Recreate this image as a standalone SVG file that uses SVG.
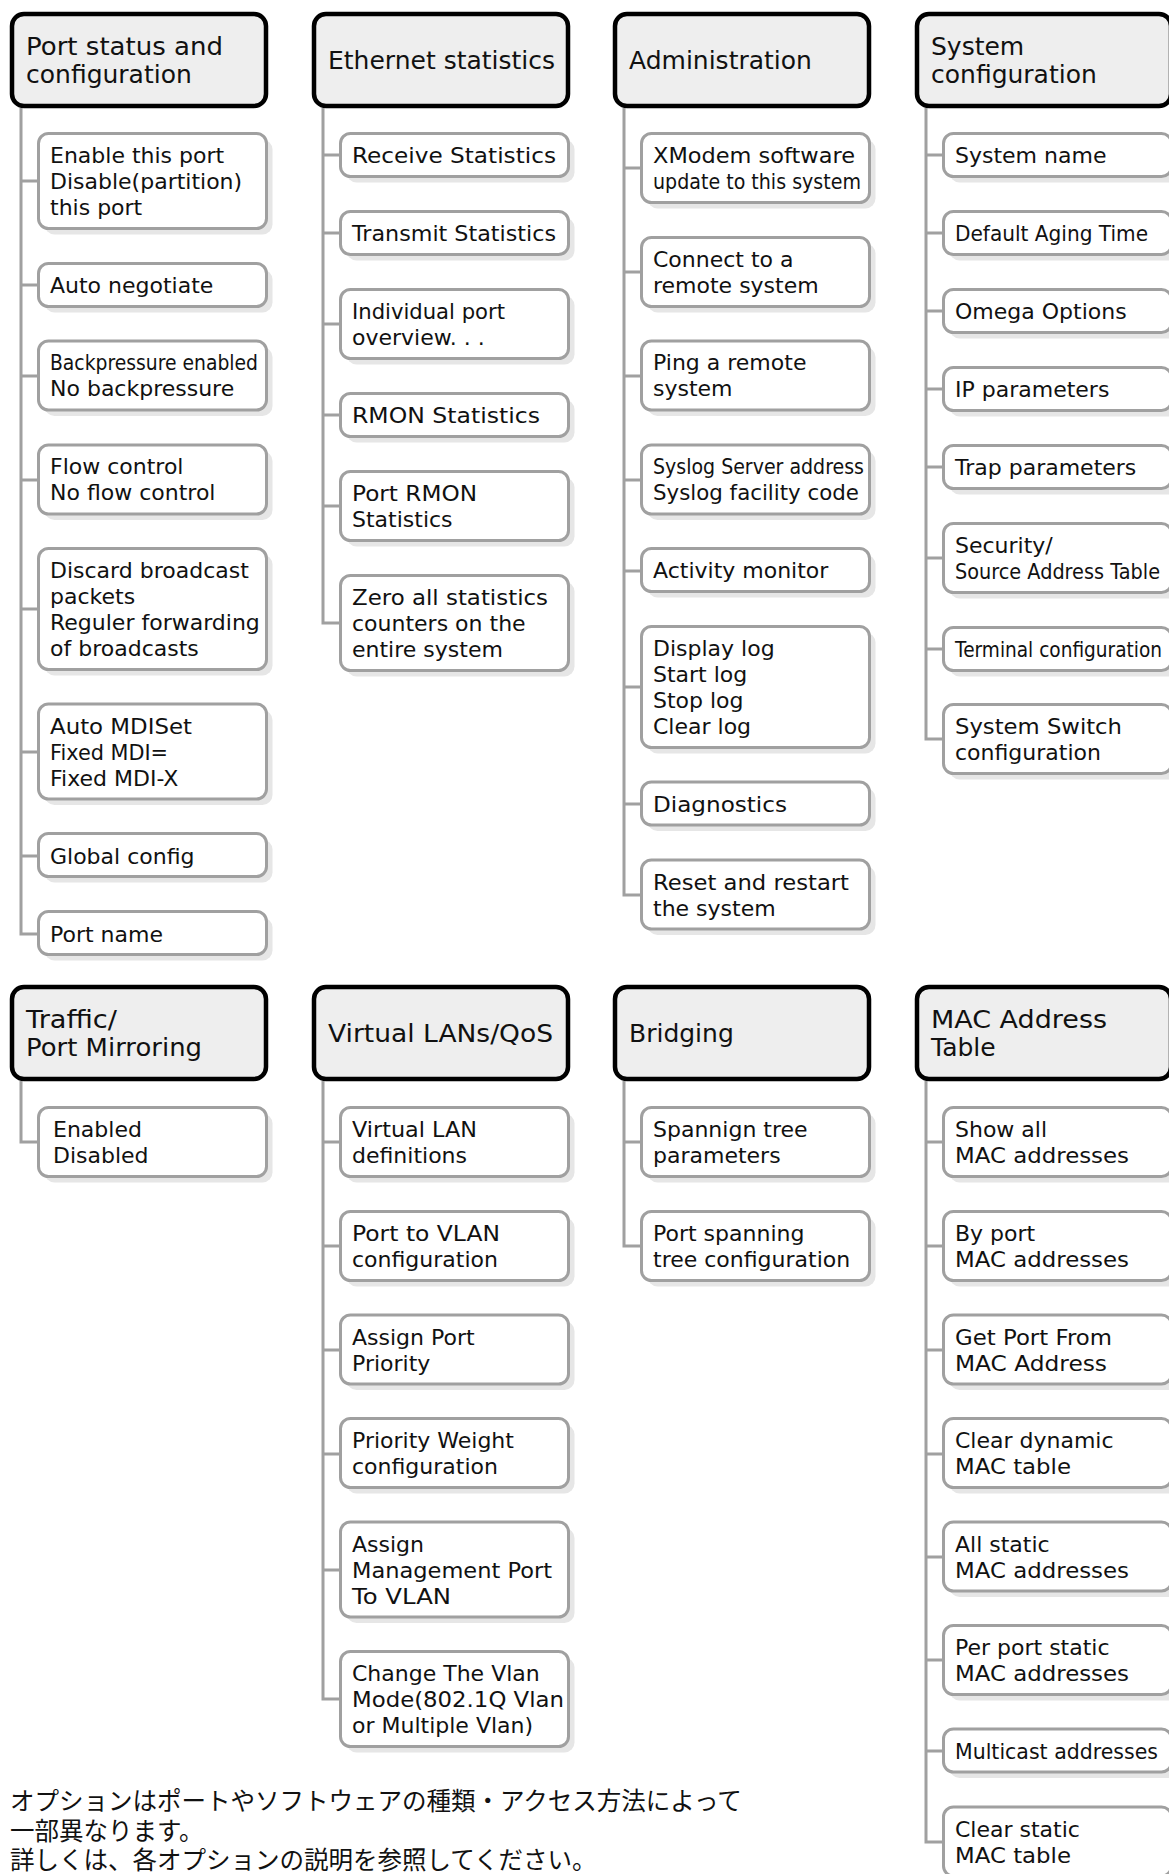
<svg xmlns="http://www.w3.org/2000/svg" width="1169" height="1874" viewBox="0 0 1169 1874">
<style>
.hd{fill:#eeeeee;stroke:#000;stroke-width:4.5}
.bx{fill:#fff;stroke:#a0a0a0;stroke-width:3}
.sh{fill:#e6e6e6}
.ln{fill:none;stroke:#a0a0a0;stroke-width:3}
text{font-family:"DejaVu Sans","Noto Sans",sans-serif;fill:#111}
.t{font-size:22px}
.h{font-size:25px}
.jp{font-family:"Noto Sans CJK JP",sans-serif;font-size:24.5px}
</style>
<rect width="1169" height="1874" fill="#fff"/>
<g id="connectors">
<path class="ln" d="M21,108V934H38M21,181H38M21,285H38M21,376H38M21,480H38M21,609H38M21,752H38M21,856H38"/>
<path class="ln" d="M323,108V623H340M323,155H340M323,233H340M323,324H340M323,415H340M323,506H340"/>
<path class="ln" d="M624,108V895H641M624,168H641M624,272H641M624,376H641M624,480H641M624,571H641M624,687H641M624,804H641"/>
<path class="ln" d="M926,108V739H943M926,155H943M926,233H943M926,311H943M926,389H943M926,467H943M926,558H943M926,649H943"/>
<path class="ln" d="M21,1081V1142H38"/>
<path class="ln" d="M323,1081V1699H340M323,1142H340M323,1246H340M323,1350H340M323,1454H340M323,1570H340"/>
<path class="ln" d="M624,1081V1246H641M624,1142H641"/>
<path class="ln" d="M926,1081V1842H943M926,1142H943M926,1246H943M926,1350H943M926,1454H943M926,1557H943M926,1660H943M926,1751H943"/>
</g>

<!-- Column 1 row 1 -->
<g id="h-port-status"><rect class="hd" x="12" y="14" width="254" height="92" rx="12"/><text class="h" x="26" y="55" textLength="197" lengthAdjust="spacingAndGlyphs">Port status and</text><text class="h" x="26" y="83">configuration</text></g>
<g id="n-enable"><rect class="sh" x="44.5" y="139.5" width="228" height="95" rx="10"/><rect class="bx" x="38.5" y="133.5" width="228" height="95" rx="10"/><text class="t" x="50" y="163">Enable this port</text><text class="t" x="50" y="189">Disable(partition)</text><text class="t" x="50" y="215">this port</text></g>
<g id="n-autoneg"><rect class="sh" x="44.5" y="269.5" width="228" height="43" rx="10"/><rect class="bx" x="38.5" y="263.5" width="228" height="43" rx="10"/><text class="t" x="50" y="293">Auto negotiate</text></g>
<g id="n-backpressure"><rect class="sh" x="44.5" y="347" width="228" height="69" rx="10"/><rect class="bx" x="38.5" y="341" width="228" height="69" rx="10"/><text class="t" x="50" y="370" textLength="208" lengthAdjust="spacingAndGlyphs">Backpressure enabled</text><text class="t" x="50" y="396">No backpressure</text></g>
<g id="n-flow"><rect class="sh" x="44.5" y="451" width="228" height="69" rx="10"/><rect class="bx" x="38.5" y="445" width="228" height="69" rx="10"/><text class="t" x="50" y="474">Flow control</text><text class="t" x="50" y="500">No flow control</text></g>
<g id="n-discard"><rect class="sh" x="44.5" y="554.5" width="228" height="121" rx="10"/><rect class="bx" x="38.5" y="548.5" width="228" height="121" rx="10"/><text class="t" x="50" y="578">Discard broadcast</text><text class="t" x="50" y="604">packets</text><text class="t" x="50" y="630">Reguler forwarding</text><text class="t" x="50" y="656">of broadcasts</text></g>
<g id="n-mdi"><rect class="sh" x="44.5" y="710" width="228" height="95" rx="10"/><rect class="bx" x="38.5" y="704" width="228" height="95" rx="10"/><text class="t" x="50" y="734" textLength="142" lengthAdjust="spacingAndGlyphs">Auto MDISet</text><text class="t" x="50" y="760" textLength="118" lengthAdjust="spacingAndGlyphs">Fixed MDI=</text><text class="t" x="50" y="786">Fixed MDI-X</text></g>
<g id="n-global"><rect class="sh" x="44.5" y="839.5" width="228" height="43" rx="10"/><rect class="bx" x="38.5" y="833.5" width="228" height="43" rx="10"/><text class="t" x="50" y="864">Global config</text></g>
<g id="n-portname"><rect class="sh" x="44.5" y="917.5" width="228" height="43" rx="10"/><rect class="bx" x="38.5" y="911.5" width="228" height="43" rx="10"/><text class="t" x="50" y="942">Port name</text></g>

<!-- Column 2 row 1 -->
<g id="h-ethernet"><rect class="hd" x="314" y="14" width="254" height="92" rx="12"/><text class="h" x="328" y="69">Ethernet statistics</text></g>
<g id="n-receive"><rect class="sh" x="346.5" y="139.5" width="228" height="43" rx="10"/><rect class="bx" x="340.5" y="133.5" width="228" height="43" rx="10"/><text class="t" x="352" y="163" textLength="204" lengthAdjust="spacingAndGlyphs">Receive Statistics</text></g>
<g id="n-transmit"><rect class="sh" x="346.5" y="217.5" width="228" height="43" rx="10"/><rect class="bx" x="340.5" y="211.5" width="228" height="43" rx="10"/><text class="t" x="352" y="241" textLength="204" lengthAdjust="spacingAndGlyphs">Transmit Statistics</text></g>
<g id="n-individual"><rect class="sh" x="346.5" y="295.5" width="228" height="69" rx="10"/><rect class="bx" x="340.5" y="289.5" width="228" height="69" rx="10"/><text class="t" x="352" y="319" textLength="153" lengthAdjust="spacingAndGlyphs">Individual port</text><text class="t" x="352" y="345">overview. . .</text></g>
<g id="n-rmon"><rect class="sh" x="346.5" y="399.5" width="228" height="43" rx="10"/><rect class="bx" x="340.5" y="393.5" width="228" height="43" rx="10"/><text class="t" x="352" y="423" textLength="188" lengthAdjust="spacingAndGlyphs">RMON Statistics</text></g>
<g id="n-portrmon"><rect class="sh" x="346.5" y="477.5" width="228" height="69" rx="10"/><rect class="bx" x="340.5" y="471.5" width="228" height="69" rx="10"/><text class="t" x="352" y="501" textLength="125" lengthAdjust="spacingAndGlyphs">Port RMON</text><text class="t" x="352" y="527">Statistics</text></g>
<g id="n-zero"><rect class="sh" x="346.5" y="581.5" width="228" height="95" rx="10"/><rect class="bx" x="340.5" y="575.5" width="228" height="95" rx="10"/><text class="t" x="352" y="605" textLength="196" lengthAdjust="spacingAndGlyphs">Zero all statistics</text><text class="t" x="352" y="631">counters on the</text><text class="t" x="352" y="657">entire system</text></g>

<!-- Column 3 row 1 -->
<g id="h-admin"><rect class="hd" x="615" y="14" width="254" height="92" rx="12"/><text class="h" x="629" y="69">Administration</text></g>
<g id="n-xmodem"><rect class="sh" x="647.5" y="139.5" width="228" height="69" rx="10"/><rect class="bx" x="641.5" y="133.5" width="228" height="69" rx="10"/><text class="t" x="653" y="163" textLength="202" lengthAdjust="spacingAndGlyphs">XModem software</text><text class="t" x="653" y="189" textLength="208" lengthAdjust="spacingAndGlyphs">update to this system</text></g>
<g id="n-connect"><rect class="sh" x="647.5" y="243.5" width="228" height="69" rx="10"/><rect class="bx" x="641.5" y="237.5" width="228" height="69" rx="10"/><text class="t" x="653" y="267">Connect to a</text><text class="t" x="653" y="293">remote system</text></g>
<g id="n-ping"><rect class="sh" x="647.5" y="347" width="228" height="69" rx="10"/><rect class="bx" x="641.5" y="341" width="228" height="69" rx="10"/><text class="t" x="653" y="370">Ping a remote</text><text class="t" x="653" y="396">system</text></g>
<g id="n-syslog"><rect class="sh" x="647.5" y="451" width="228" height="69" rx="10"/><rect class="bx" x="641.5" y="445" width="228" height="69" rx="10"/><text class="t" x="653" y="474" textLength="211" lengthAdjust="spacingAndGlyphs">Syslog Server address</text><text class="t" x="653" y="500" textLength="206" lengthAdjust="spacingAndGlyphs">Syslog facility code</text></g>
<g id="n-activity"><rect class="sh" x="647.5" y="554.5" width="228" height="43" rx="10"/><rect class="bx" x="641.5" y="548.5" width="228" height="43" rx="10"/><text class="t" x="653" y="578">Activity monitor</text></g>
<g id="n-log"><rect class="sh" x="647.5" y="632.5" width="228" height="121" rx="10"/><rect class="bx" x="641.5" y="626.5" width="228" height="121" rx="10"/><text class="t" x="653" y="656">Display log</text><text class="t" x="653" y="682">Start log</text><text class="t" x="653" y="708">Stop log</text><text class="t" x="653" y="734">Clear log</text></g>
<g id="n-diag"><rect class="sh" x="647.5" y="788" width="228" height="43" rx="10"/><rect class="bx" x="641.5" y="782" width="228" height="43" rx="10"/><text class="t" x="653" y="812" textLength="134" lengthAdjust="spacingAndGlyphs">Diagnostics</text></g>
<g id="n-reset"><rect class="sh" x="647.5" y="866" width="228" height="69" rx="10"/><rect class="bx" x="641.5" y="860" width="228" height="69" rx="10"/><text class="t" x="653" y="890" textLength="196" lengthAdjust="spacingAndGlyphs">Reset and restart</text><text class="t" x="653" y="916">the system</text></g>

<!-- Column 4 row 1 -->
<g id="h-sysconf"><rect class="hd" x="917" y="14" width="254" height="92" rx="12"/><text class="h" x="931" y="55">System</text><text class="h" x="931" y="83">configuration</text></g>
<g id="n-sysname"><rect class="sh" x="949.5" y="139.5" width="228" height="43" rx="10"/><rect class="bx" x="943.5" y="133.5" width="228" height="43" rx="10"/><text class="t" x="955" y="163">System name</text></g>
<g id="n-aging"><rect class="sh" x="949.5" y="217.5" width="228" height="43" rx="10"/><rect class="bx" x="943.5" y="211.5" width="228" height="43" rx="10"/><text class="t" x="955" y="241" textLength="193" lengthAdjust="spacingAndGlyphs">Default Aging Time</text></g>
<g id="n-omega"><rect class="sh" x="949.5" y="295.5" width="228" height="43" rx="10"/><rect class="bx" x="943.5" y="289.5" width="228" height="43" rx="10"/><text class="t" x="955" y="319">Omega Options</text></g>
<g id="n-ip"><rect class="sh" x="949.5" y="373.5" width="228" height="43" rx="10"/><rect class="bx" x="943.5" y="367.5" width="228" height="43" rx="10"/><text class="t" x="955" y="397">IP parameters</text></g>
<g id="n-trap"><rect class="sh" x="949.5" y="451.5" width="228" height="43" rx="10"/><rect class="bx" x="943.5" y="445.5" width="228" height="43" rx="10"/><text class="t" x="955" y="475">Trap parameters</text></g>
<g id="n-security"><rect class="sh" x="949.5" y="529.5" width="228" height="69" rx="10"/><rect class="bx" x="943.5" y="523.5" width="228" height="69" rx="10"/><text class="t" x="955" y="553">Security/</text><text class="t" x="955" y="579" textLength="205" lengthAdjust="spacingAndGlyphs">Source Address Table</text></g>
<g id="n-terminal"><rect class="sh" x="949.5" y="633.5" width="228" height="43" rx="10"/><rect class="bx" x="943.5" y="627.5" width="228" height="43" rx="10"/><text class="t" x="955" y="657" textLength="207" lengthAdjust="spacingAndGlyphs">Terminal configuration</text></g>
<g id="n-switch"><rect class="sh" x="949.5" y="710.5" width="228" height="69" rx="10"/><rect class="bx" x="943.5" y="704.5" width="228" height="69" rx="10"/><text class="t" x="955" y="734" textLength="167" lengthAdjust="spacingAndGlyphs">System Switch</text><text class="t" x="955" y="760">configuration</text></g>

<!-- Row 2 column 1 -->
<g id="h-traffic"><rect class="hd" x="12" y="987" width="254" height="92" rx="12"/><text class="h" x="26" y="1028" textLength="91" lengthAdjust="spacingAndGlyphs">Traffic/</text><text class="h" x="26" y="1056" textLength="176" lengthAdjust="spacingAndGlyphs">Port Mirroring</text></g>
<g id="n-enabled"><rect class="sh" x="44.5" y="1113.5" width="228" height="69" rx="10"/><rect class="bx" x="38.5" y="1107.5" width="228" height="69" rx="10"/><text class="t" x="53" y="1137">Enabled</text><text class="t" x="53" y="1163">Disabled</text></g>

<!-- Row 2 column 2 -->
<g id="h-vlan"><rect class="hd" x="314" y="987" width="254" height="92" rx="12"/><text class="h" x="328" y="1042" textLength="225" lengthAdjust="spacingAndGlyphs">Virtual LANs/QoS</text></g>
<g id="n-vlandef"><rect class="sh" x="346.5" y="1113.5" width="228" height="69" rx="10"/><rect class="bx" x="340.5" y="1107.5" width="228" height="69" rx="10"/><text class="t" x="352" y="1137" textLength="125" lengthAdjust="spacingAndGlyphs">Virtual LAN</text><text class="t" x="352" y="1163">definitions</text></g>
<g id="n-port2vlan"><rect class="sh" x="346.5" y="1217.5" width="228" height="69" rx="10"/><rect class="bx" x="340.5" y="1211.5" width="228" height="69" rx="10"/><text class="t" x="352" y="1241" textLength="148" lengthAdjust="spacingAndGlyphs">Port to VLAN</text><text class="t" x="352" y="1267">configuration</text></g>
<g id="n-assignprio"><rect class="sh" x="346.5" y="1321" width="228" height="69" rx="10"/><rect class="bx" x="340.5" y="1315" width="228" height="69" rx="10"/><text class="t" x="352" y="1345">Assign Port</text><text class="t" x="352" y="1371">Priority</text></g>
<g id="n-prioweight"><rect class="sh" x="346.5" y="1424.5" width="228" height="69" rx="10"/><rect class="bx" x="340.5" y="1418.5" width="228" height="69" rx="10"/><text class="t" x="352" y="1448">Priority Weight</text><text class="t" x="352" y="1474">configuration</text></g>
<g id="n-mgmt"><rect class="sh" x="346.5" y="1528" width="228" height="95" rx="10"/><rect class="bx" x="340.5" y="1522" width="228" height="95" rx="10"/><text class="t" x="352" y="1552">Assign</text><text class="t" x="352" y="1578" textLength="200" lengthAdjust="spacingAndGlyphs">Management Port</text><text class="t" x="352" y="1604" textLength="99" lengthAdjust="spacingAndGlyphs">To VLAN</text></g>
<g id="n-vlanmode"><rect class="sh" x="346.5" y="1657.5" width="228" height="95" rx="10"/><rect class="bx" x="340.5" y="1651.5" width="228" height="95" rx="10"/><text class="t" x="352" y="1681">Change The Vlan</text><text class="t" x="352" y="1707" textLength="212" lengthAdjust="spacingAndGlyphs">Mode(802.1Q Vlan</text><text class="t" x="352" y="1733">or Multiple Vlan)</text></g>

<!-- Row 2 column 3 -->
<g id="h-bridging"><rect class="hd" x="615" y="987" width="254" height="92" rx="12"/><text class="h" x="629" y="1042">Bridging</text></g>
<g id="n-stp"><rect class="sh" x="647.5" y="1113.5" width="228" height="69" rx="10"/><rect class="bx" x="641.5" y="1107.5" width="228" height="69" rx="10"/><text class="t" x="653" y="1137">Spannign tree</text><text class="t" x="653" y="1163">parameters</text></g>
<g id="n-portstp"><rect class="sh" x="647.5" y="1217.5" width="228" height="69" rx="10"/><rect class="bx" x="641.5" y="1211.5" width="228" height="69" rx="10"/><text class="t" x="653" y="1241">Port spanning</text><text class="t" x="653" y="1267">tree configuration</text></g>

<!-- Row 2 column 4 -->
<g id="h-mac"><rect class="hd" x="917" y="987" width="254" height="92" rx="12"/><text class="h" x="931" y="1028" textLength="176" lengthAdjust="spacingAndGlyphs">MAC Address</text><text class="h" x="931" y="1056">Table</text></g>
<g id="n-showall"><rect class="sh" x="949.5" y="1113.5" width="228" height="69" rx="10"/><rect class="bx" x="943.5" y="1107.5" width="228" height="69" rx="10"/><text class="t" x="955" y="1137">Show all</text><text class="t" x="955" y="1163" textLength="174" lengthAdjust="spacingAndGlyphs">MAC addresses</text></g>
<g id="n-byport"><rect class="sh" x="949.5" y="1217.5" width="228" height="69" rx="10"/><rect class="bx" x="943.5" y="1211.5" width="228" height="69" rx="10"/><text class="t" x="955" y="1241">By port</text><text class="t" x="955" y="1267" textLength="174" lengthAdjust="spacingAndGlyphs">MAC addresses</text></g>
<g id="n-getport"><rect class="sh" x="949.5" y="1321" width="228" height="69" rx="10"/><rect class="bx" x="943.5" y="1315" width="228" height="69" rx="10"/><text class="t" x="955" y="1345" textLength="157" lengthAdjust="spacingAndGlyphs">Get Port From</text><text class="t" x="955" y="1371" textLength="152" lengthAdjust="spacingAndGlyphs">MAC Address</text></g>
<g id="n-cleardyn"><rect class="sh" x="949.5" y="1424.5" width="228" height="69" rx="10"/><rect class="bx" x="943.5" y="1418.5" width="228" height="69" rx="10"/><text class="t" x="955" y="1448">Clear dynamic</text><text class="t" x="955" y="1474" textLength="116" lengthAdjust="spacingAndGlyphs">MAC table</text></g>
<g id="n-allstatic"><rect class="sh" x="949.5" y="1528" width="228" height="69" rx="10"/><rect class="bx" x="943.5" y="1522" width="228" height="69" rx="10"/><text class="t" x="955" y="1552">All static</text><text class="t" x="955" y="1578" textLength="174" lengthAdjust="spacingAndGlyphs">MAC addresses</text></g>
<g id="n-perport"><rect class="sh" x="949.5" y="1631.5" width="228" height="69" rx="10"/><rect class="bx" x="943.5" y="1625.5" width="228" height="69" rx="10"/><text class="t" x="955" y="1655">Per port static</text><text class="t" x="955" y="1681" textLength="174" lengthAdjust="spacingAndGlyphs">MAC addresses</text></g>
<g id="n-multicast"><rect class="sh" x="949.5" y="1735" width="228" height="43" rx="10"/><rect class="bx" x="943.5" y="1729" width="228" height="43" rx="10"/><text class="t" x="955" y="1759" textLength="203" lengthAdjust="spacingAndGlyphs">Multicast addresses</text></g>
<g id="n-clearstatic"><rect class="sh" x="949.5" y="1813" width="228" height="69" rx="10"/><rect class="bx" x="943.5" y="1807" width="228" height="69" rx="10"/><text class="t" x="955" y="1837">Clear static</text><text class="t" x="955" y="1863" textLength="116" lengthAdjust="spacingAndGlyphs">MAC table</text></g>

<g id="note">
<text class="jp" x="10" y="1810">オプションはポートやソフトウェアの種類・アクセス方法によって</text>
<text class="jp" x="10" y="1840">一部異なります。</text>
<text class="jp" x="10" y="1869">詳しくは、各オプションの説明を参照してください。</text>
</g>
</svg>
